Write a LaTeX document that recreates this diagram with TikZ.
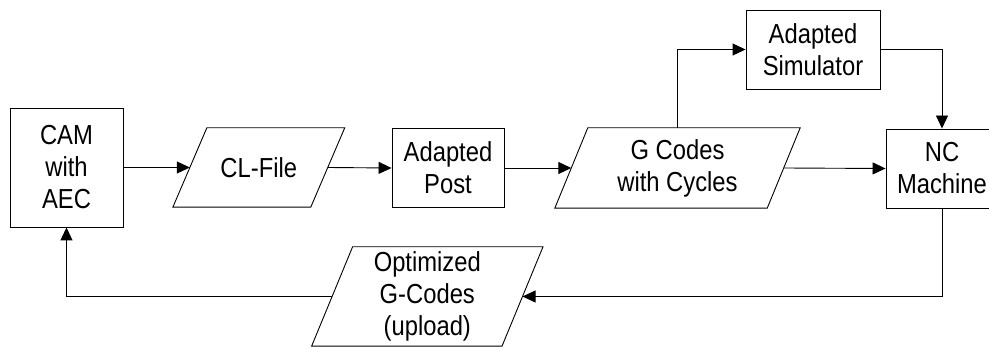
\documentclass[tikz,border=0pt]{standalone}
\usepackage{fontspec}
\setmainfont[FakeStretch=0.865]{Liberation Sans}
\usetikzlibrary{arrows.meta,calc}
\begin{document}
\begin{tikzpicture}[x=1pt,y=1pt,
  every node/.style={font=\fontsize{27.5}{32}\selectfont, align=center, inner sep=0pt},
  boxnode/.style={draw, line width=0.9pt, minimum width=#1, minimum height=79pt},
  datanode/.style={minimum width=#1, minimum height=79pt},
  conn/.style={line width=0.9pt, -{Triangle[length=13pt,width=12pt]}},
  plain/.style={line width=0.9pt}
]
\useasboundingbox (0,0) rectangle (989,-347);
% process boxes
\node[boxnode=113pt, minimum height=119pt] (cam) at (66.5,-167.5) {CAM\\with\\AEC};
\node[boxnode=112pt] (post) at (448,-168) {Adapted\\Post};
\node[boxnode=134pt] (sim) at (813,-49.5) {Adapted\\Simulator};
\node[boxnode=112pt] (nc) at (942,-168.5) {NC\\Machine};
% data (parallelogram) nodes
\node[datanode=137.5pt] (cl) at (258.8,-167.5) {CL-File};
\node[datanode=212pt, minimum height=80pt] (gc) at (677.5,-168) {G Codes\\with Cycles};
\node[datanode=190pt, minimum height=99pt] (opt) at (427.3,-296.5) {Optimized\\G-Codes\\(upload)};
% parallelogram outlines
\draw[plain] ($(cl.north west)+(17,0)$) -- ($(cl.north east)+(17,0)$) -- ($(cl.south east)+(-17,0)$) -- ($(cl.south west)+(-17,0)$) -- cycle;
\draw[plain] ($(gc.north west)+(16.5,0)$) -- ($(gc.north east)+(16.5,0)$) -- ($(gc.south east)+(-16.5,0)$) -- ($(gc.south west)+(-16.5,0)$) -- cycle;
\draw[plain] ($(opt.north west)+(20.5,0)$) -- ($(opt.north east)+(20.5,0)$) -- ($(opt.south east)+(-20.5,0)$) -- ($(opt.south west)+(-20.5,0)$) -- cycle;
% connectors
\draw[conn] (cam.east) -- (cl.west);
\draw[conn] (cl.east) -- (post.west);
\draw[conn] (post.east) -- (gc.west);
\draw[conn] (gc.east) -- (nc.west);
\draw[conn] (gc.north) |- (sim.west);
\draw[conn] (sim.east) -| (nc.north);
\draw[conn] (nc.south) |- (opt.east);
\draw[conn] (opt.west) -| (cam.south);
\end{tikzpicture}
\end{document}
